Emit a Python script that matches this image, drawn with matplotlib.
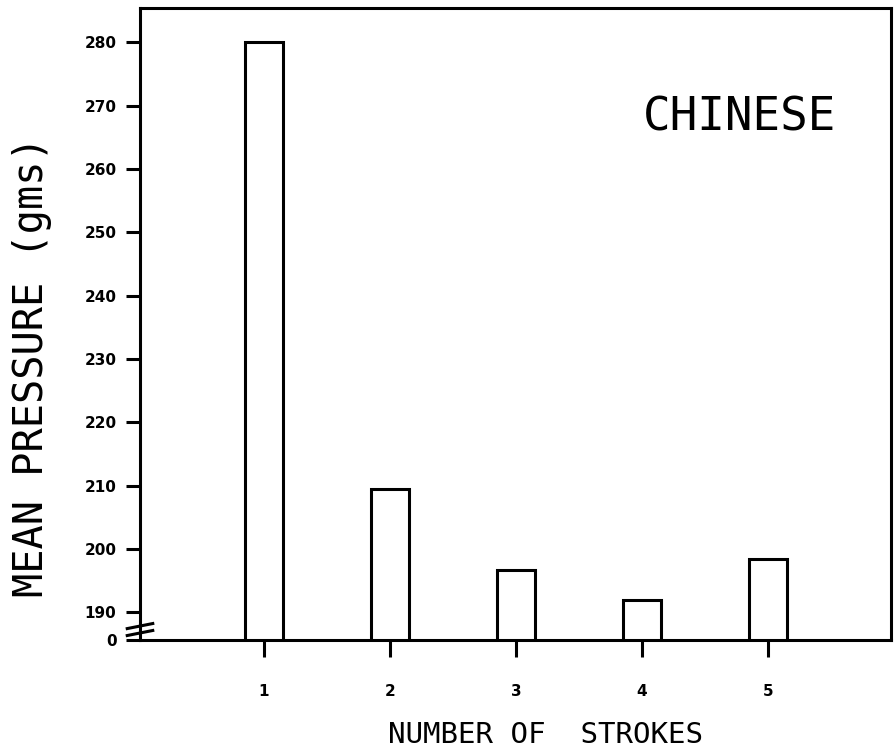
import numpy as np
import matplotlib.pyplot as plt

# data
strokes = [1, 2, 3, 4, 5]
mean_pressure = [280.0, 209.5, 196.7, 191.9, 198.4]
ytick_values = list(range(190, 281, 10))

# the y axis is broken: the bottom of the axis stands for 0
y_floor = 185.6
y_top = 285.4

fig = plt.figure(figsize=(8.94, 7.52), dpi=100)
ax = fig.add_axes([0.1566, 0.149, 0.84, 0.84])

ax.bar(strokes, np.array(mean_pressure) - y_floor, bottom=y_floor, width=0.3,
       facecolor="white", edgecolor="black", linewidth=2.2, zorder=3)

ax.set_xlim(0.016, 5.976)
ax.set_ylim(y_floor, y_top)

ax.set_xticks(strokes)
ax.set_xticklabels([str(s) for s in strokes], fontfamily="DejaVu Sans",
                   fontweight="heavy", fontsize=11)
ax.set_yticks([y_floor] + ytick_values)
ax.set_yticklabels(["0"] + [str(v) for v in ytick_values], fontfamily="DejaVu Sans",
                   fontweight="heavy", fontsize=11)
ax.tick_params(axis="y", length=10, width=2.2, pad=7)
ax.tick_params(axis="x", length=12, width=2.2, pad=20)

for side in ["left", "right", "top", "bottom"]:
    ax.spines[side].set_linewidth(2.2)

# break marks on the y axis
for dy in [0.0, 0.011]:
    ax.plot([-0.017, 0.017], [0.007 + dy, 0.015 + dy], transform=ax.transAxes,
            color="black", linewidth=2.2, clip_on=False, zorder=5)

ax.text(0.799, 0.826, "CHINESE", transform=ax.transAxes, ha="center", va="center",
        fontfamily="DejaVu Sans Mono", fontsize=33)

fig.text(0.61, 0.023, "NUMBER OF  STROKES", ha="center", va="center",
         fontfamily="DejaVu Sans Mono", fontsize=21)
fig.text(0.036, 0.512, "MEAN PRESSURE (gms)", ha="center", va="center", rotation=90,
         fontfamily="DejaVu Sans Mono", fontsize=29)

fig.savefig("out.png", dpi=100)
